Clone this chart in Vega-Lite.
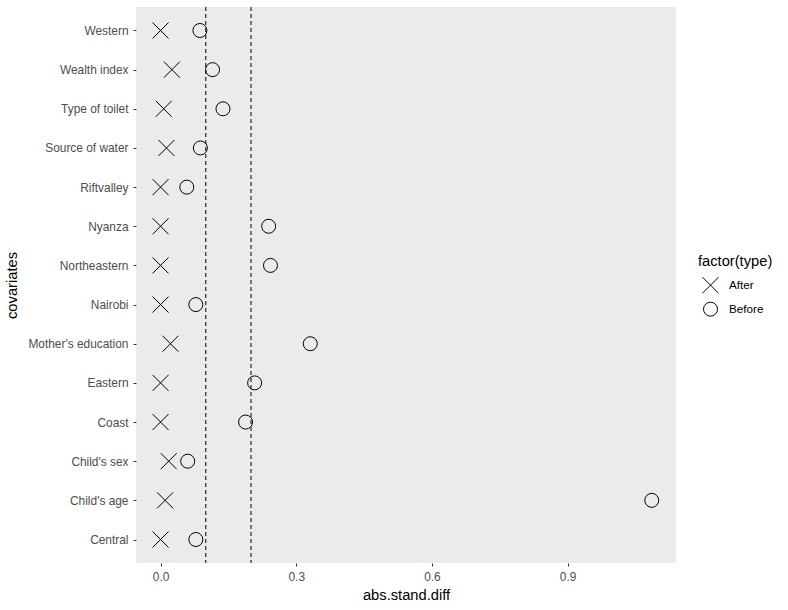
{
  "$schema": "https://vega.github.io/schema/vega-lite/v6.json",
  "width": 540,
  "height": 556,
  "autosize": {"type": "none"},
  "padding": {"left": 136, "top": 7, "right": 112, "bottom": 47},
  "background": "white",
  "config": {
    "font": "Liberation Sans",
    "view": {"fill": "#EBEBEB", "stroke": null},
    "axis": {
      "domain": false,
      "grid": false,
      "tickColor": "#333333",
      "tickSize": 3,
      "tickWidth": 1,
      "labelColor": "#4D4D4D",
      "labelFontSize": 11.9,
      "titleFontSize": 14.7,
      "titleFontWeight": "normal",
      "titleColor": "black"
    },
    "legend": {
      "titleFontSize": 14.7,
      "titleFontWeight": "normal",
      "titleColor": "black",
      "labelFontSize": 11.7,
      "labelColor": "black",
      "symbolStrokeColor": "black",
      "symbolStrokeWidth": 1
    }
  },
  "datasets": {
    "pts": [
      {"covariate": "Western", "type": "After", "diff": 0.0},
      {"covariate": "Western", "type": "Before", "diff": 0.087},
      {"covariate": "Wealth index", "type": "After", "diff": 0.025},
      {"covariate": "Wealth index", "type": "Before", "diff": 0.115},
      {"covariate": "Type of toilet", "type": "After", "diff": 0.007},
      {"covariate": "Type of toilet", "type": "Before", "diff": 0.138},
      {"covariate": "Source of water", "type": "After", "diff": 0.013},
      {"covariate": "Source of water", "type": "Before", "diff": 0.088},
      {"covariate": "Riftvalley", "type": "After", "diff": 0.0},
      {"covariate": "Riftvalley", "type": "Before", "diff": 0.058},
      {"covariate": "Nyanza", "type": "After", "diff": 0.0},
      {"covariate": "Nyanza", "type": "Before", "diff": 0.239},
      {"covariate": "Northeastern", "type": "After", "diff": 0.0},
      {"covariate": "Northeastern", "type": "Before", "diff": 0.243},
      {"covariate": "Nairobi", "type": "After", "diff": 0.0},
      {"covariate": "Nairobi", "type": "Before", "diff": 0.078},
      {"covariate": "Mother's education", "type": "After", "diff": 0.022},
      {"covariate": "Mother's education", "type": "Before", "diff": 0.331},
      {"covariate": "Eastern", "type": "After", "diff": 0.0},
      {"covariate": "Eastern", "type": "Before", "diff": 0.208},
      {"covariate": "Coast", "type": "After", "diff": 0.0},
      {"covariate": "Coast", "type": "Before", "diff": 0.188},
      {"covariate": "Child's sex", "type": "After", "diff": 0.018},
      {"covariate": "Child's sex", "type": "Before", "diff": 0.060},
      {"covariate": "Child's age", "type": "After", "diff": 0.010},
      {"covariate": "Child's age", "type": "Before", "diff": 1.086},
      {"covariate": "Central", "type": "After", "diff": 0.0},
      {"covariate": "Central", "type": "Before", "diff": 0.078}
    ],
    "refs": [{"x": 0.1}, {"x": 0.2}]
  },
  "layer": [
    {
      "data": {"name": "refs"},
      "mark": {"type": "rule", "color": "black", "strokeWidth": 1, "strokeDash": [4, 3]},
      "encoding": {
        "x": {"field": "x", "type": "quantitative"}
      }
    },
    {
      "data": {"name": "pts"},
      "mark": {"type": "point", "filled": false, "color": "black", "strokeWidth": 1, "opacity": 1},
      "encoding": {
        "x": {
          "field": "diff",
          "type": "quantitative",
          "title": "abs.stand.diff",
          "scale": {"domain": [-0.0543, 1.1396], "nice": false, "zero": false},
          "axis": {"values": [0, 0.3, 0.6, 0.9], "format": ".1f", "labelPadding": 5, "titlePadding": 6}
        },
        "y": {
          "field": "covariate",
          "type": "nominal",
          "title": "covariates",
          "sort": ["Western", "Wealth index", "Type of toilet", "Source of water", "Riftvalley", "Nyanza", "Northeastern", "Nairobi", "Mother's education", "Eastern", "Coast", "Child's sex", "Child's age", "Central"],
          "scale": {"type": "point", "padding": 0.6},
          "axis": {"labelPadding": 5, "titlePadding": 8}
        },
        "shape": {
          "field": "type",
          "type": "nominal",
          "title": "factor(type)",
          "scale": {"domain": ["After", "Before"], "range": ["M-1,-1L1,1M1,-1L-1,1", "circle"]},
          "legend": {
            "orient": "none",
            "legendX": 562,
            "legendY": 247,
            "titlePadding": 8,
            "rowPadding": 4,
            "symbolOffset": 4,
            "labelOffset": 10,
            "titleLimit": 200
          }
        },
        "size": {
          "field": "type",
          "type": "nominal",
          "title": "factor(type)",
          "scale": {"domain": ["After", "Before"], "range": [256, 196]},
          "legend": {
            "orient": "none",
            "legendX": 562,
            "legendY": 247,
            "titlePadding": 8,
            "rowPadding": 4,
            "symbolOffset": 4,
            "labelOffset": 10,
            "titleLimit": 200
          }
        }
      }
    }
  ]
}
